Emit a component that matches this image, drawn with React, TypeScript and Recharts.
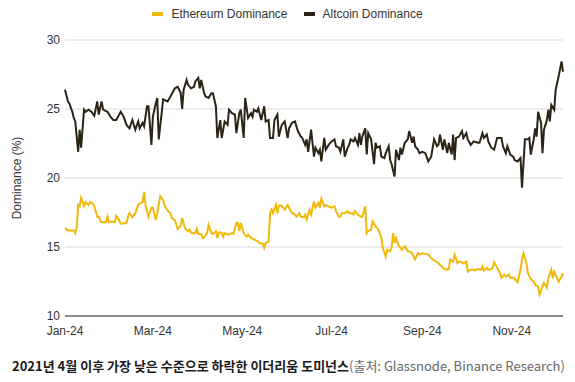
import React from 'react';
import { LineChart, Line, XAxis, YAxis, CartesianGrid } from 'recharts';

// Day offsets from 2024-01-01
const monthTickDays = [0, 60, 121, 182, 244, 305];
const monthTickLabels = ['Jan-24', 'Mar-24', 'May-24', 'Jul-24', 'Sep-24', 'Nov-24'];
const yTicks = [10, 15, 20, 25, 30];

const altDays = [0,2,3,5,6,7,9,10,11,13,14,16,18,20,22,23,25,26,29,31,33,35,38,40,42,44,46,48,50,51,53,54,56,57,59,60,62,63,64,66,67,70,72,74,75,77,79,80,81,83,84,86,88,89,91,92,93,95,96,98,100,101,103,104,106,107,109,111,112,114,116,117,119,120,122,123,125,127,128,129,131,132,134,136,137,139,140,142,143,145,146,148,150,152,153,155,157,159,161,162,164,165,166,168,170,171,173,174,175,177,178,180,182,184,185,187,188,190,191,193,194,195,197,198,200,201,202,203,205,206,207,209,211,212,213,215,216,218,219,221,222,223,225,226,228,229,230,232,234,235,237,238,239,241,242,244,246,248,250,252,254,255,256,258,259,261,262,264,265,266,267,269,271,272,274,275,277,279,282,283,285,286,288,289,291,293,295,298,299,301,302,304,306,307,309,311,312,314,316,317,318,320,321,322,323,325,326,327,329,330,331,332,334,335,337,339,340];
const altValues = [26.4,25.55,25.4,24.8,24.35,24.1,21.9,23.5,22.2,24.95,24.8,24.95,24.8,24.5,25.55,24.6,25.55,24.95,24.8,24.45,24.2,24.2,24.8,24.45,23.85,23.6,24.2,23.5,24.1,23.6,24.0,23.75,25.2,25.2,22.4,24.45,25.4,25.8,22.8,24.7,25.7,25.55,25.9,26.3,26.5,26.6,26.15,25.0,26.4,27.1,26.75,26.5,26.6,27.0,27.25,26.5,27.1,26.15,25.9,25.8,26.15,26.15,25.2,22.9,24.2,22.9,24.1,23.85,24.95,24.7,24.6,23.25,24.7,24.95,22.9,25.8,24.35,24.7,24.45,24.95,24.8,25.05,24.2,25.2,24.1,24.2,22.9,22.9,24.2,24.6,23.0,23.85,24.1,22.9,23.6,24.0,24.1,23.4,23.0,22.9,22.4,22.8,21.9,23.5,21.55,22.2,21.8,22.05,21.2,22.9,22.05,22.4,22.65,22.8,22.3,22.2,21.9,22.8,21.55,22.2,22.4,22.8,22.65,22.9,22.4,23.25,22.4,23.0,23.6,21.7,23.25,22.8,21.0,22.55,22.2,22.3,21.55,21.45,21.8,22.3,21.3,21.0,20.1,22.05,21.3,22.2,21.7,22.55,22.8,23.4,22.55,23.0,22.3,22.05,21.8,21.9,21.8,21.2,21.55,22.8,22.3,22.4,23.15,22.05,22.8,21.8,22.55,21.7,23.15,21.3,22.9,23.0,23.4,22.9,23.25,22.8,22.4,22.65,22.55,22.55,23.25,22.9,23.15,22.65,22.2,22.05,22.9,22.9,22.3,21.8,22.3,21.7,21.55,21.3,21.2,21.45,19.3,22.8,22.8,22.9,21.7,22.8,23.6,23.0,24.8,24.0,21.8,23.5,24.2,24.95,24.1,25.3,24.95,26.4,27.35,28.45,27.7];

const ethDays = [0,2,4,6,7,8,9,10,11,13,14,16,17,19,20,22,23,25,26,28,29,30,32,34,35,37,38,40,42,43,44,46,48,50,51,53,54,55,57,59,60,62,63,65,67,68,70,72,73,75,77,79,80,82,84,85,86,88,89,90,91,93,94,95,97,98,99,100,101,103,104,105,107,108,109,111,112,114,115,117,118,119,120,122,124,125,127,128,130,132,133,135,136,137,139,140,141,142,144,145,146,148,150,152,153,155,156,158,160,161,163,164,165,167,168,170,171,173,174,175,177,178,180,182,184,185,187,188,189,191,193,194,196,197,198,200,202,203,205,206,207,209,210,212,213,214,216,217,219,220,222,223,224,225,226,228,229,230,232,234,235,237,239,241,242,244,246,248,250,251,253,255,256,258,260,262,263,265,266,268,269,271,272,274,275,277,279,280,282,284,285,286,288,289,291,292,293,295,297,298,300,301,303,304,306,307,309,311,312,313,315,316,318,320,321,323,324,326,327,329,330,332,333,334,335,337,339,340];
const ethValues = [16.38,16.2,16.2,16.2,16.0,16.4,18.05,17.95,18.55,17.95,18.25,18.05,18.25,18.15,17.95,17.2,17.2,16.8,16.8,16.8,17.2,16.8,16.85,16.8,17.25,16.95,16.7,16.7,16.75,17.2,17.45,17.15,17.45,18.05,18.15,18.25,19.0,18.05,17.2,17.85,17.85,16.95,17.45,18.7,18.4,18.0,17.65,17.45,17.1,16.95,16.3,16.55,17.1,16.35,16.15,16.25,16.05,16.0,16.0,16.3,15.95,15.95,15.65,15.7,16.0,16.6,16.3,16.0,15.95,16.15,15.65,16.05,16.05,15.75,16.0,15.9,15.9,16.0,15.95,16.75,16.75,16.15,16.75,16.0,15.75,15.9,15.65,15.6,15.5,15.4,15.25,15.25,14.95,15.3,15.4,17.45,17.7,17.45,18.05,17.45,18.0,18.0,17.7,18.05,17.85,17.45,17.45,17.2,17.45,17.2,17.15,17.35,17.0,17.7,17.35,18.3,17.85,18.2,17.85,18.5,17.95,18.05,17.95,17.85,17.95,17.6,17.2,17.2,17.45,17.45,17.6,17.45,17.45,17.35,17.6,17.35,17.2,17.2,17.95,16.0,16.15,16.25,16.85,16.5,16.4,16.25,15.65,14.95,14.3,14.8,14.7,14.95,16.0,15.3,15.65,15.05,14.95,14.8,15.05,14.7,14.7,14.55,14.1,14.55,14.45,14.55,14.5,14.45,14.2,14.1,13.95,13.85,13.7,13.5,13.35,13.4,14.1,13.95,14.45,13.85,13.95,13.9,13.8,13.95,13.2,13.35,13.35,13.3,13.4,13.35,13.6,13.3,13.5,13.35,13.4,13.5,13.9,13.5,13.1,12.75,13.0,12.85,13.0,12.75,12.8,12.7,12.45,13.35,14.1,14.55,13.85,13.1,12.65,12.5,12.25,12.15,11.55,12.15,12.4,12.05,12.75,13.35,12.75,13.2,13.0,12.5,12.85,13.1];

const ETH_COLOR = '#F0B90B';
const ALT_COLOR = '#2B2414';

function buildData() {
  const map = new Map<number, { day: number; eth?: number; alt?: number }>();
  altDays.forEach((d, i) => {
    const e = map.get(d) || { day: d };
    e.alt = altValues[i];
    map.set(d, e);
  });
  ethDays.forEach((d, i) => {
    const e = map.get(d) || { day: d };
    e.eth = ethValues[i];
    map.set(d, e);
  });
  return Array.from(map.values()).sort((a, b) => a.day - b.day);
}

const data = buildData();

const tickStyle = { fontFamily: 'Liberation Sans, Arial, sans-serif', fontSize: 12, fill: '#333' };

export default function App() {
  return (
    <div style={{ position: 'absolute', left: 0, top: 0, width: 575, height: 382, background: '#fff', overflow: 'hidden' }}>
      <div style={{ position: 'absolute', top: 7, left: 0, width: 575, display: 'flex', justifyContent: 'center', fontFamily: 'Liberation Sans, Arial, sans-serif', fontSize: 12, color: '#333' }}>
        <div style={{ display: 'flex', alignItems: 'center', marginRight: 16 }}>
          <span style={{ display: 'inline-block', width: 11, height: 4, background: ETH_COLOR, marginRight: 8 }} />
          <span>Ethereum Dominance</span>
        </div>
        <div style={{ display: 'flex', alignItems: 'center' }}>
          <span style={{ display: 'inline-block', width: 11, height: 4, background: ALT_COLOR, marginRight: 8 }} />
          <span>Altcoin Dominance</span>
        </div>
      </div>
      <div style={{ position: 'absolute', left: 0, top: 0 }}>
        <LineChart width={575} height={340} data={data} margin={{ top: 40, right: 12, bottom: 0, left: 0 }}>
          <CartesianGrid vertical={false} stroke="#d9d9d9" strokeWidth={1} />
          <XAxis
            dataKey="day"
            type="number"
            domain={[0, 340]}
            ticks={monthTickDays}
            tickFormatter={(v: number) => monthTickLabels[monthTickDays.indexOf(v)] ?? ''}
            tickLine={false}
            tickSize={0}
            tickMargin={10}
            height={24}
            axisLine={{ stroke: '#8c8c8c', strokeWidth: 2 }}
            tick={tickStyle}
            interval={0}
          />
          <YAxis
            type="number"
            domain={[10, 30]}
            ticks={yTicks}
            width={65}
            axisLine={false}
            tickLine={false}
            tickSize={0}
            tickMargin={5}
            tick={tickStyle}
            label={{
              content: () => (
                <text x={17} y={178} transform="rotate(-90,17,178)" textAnchor="middle" dominantBaseline="central" style={tickStyle}>
                  Dominance (%)
                </text>
              ),
            }}
          />
          <Line type="linear" dataKey="alt" stroke={ALT_COLOR} strokeWidth={2} dot={false} connectNulls isAnimationActive={false} />
          <Line type="linear" dataKey="eth" stroke={ETH_COLOR} strokeWidth={2} dot={false} connectNulls isAnimationActive={false} />
        </LineChart>
      </div>
      <div style={{ position: 'absolute', left: 12, top: 357, fontFamily: '"Noto Sans CJK KR", sans-serif', fontSize: 13, whiteSpace: 'nowrap', lineHeight: '18px' }}>
        <span style={{ fontWeight: 700, color: '#1a1a1a' }}>2021년 4월 이후 가장 낮은 수준으로 하락한 이더리움 도미넌스</span>
        <span style={{ color: '#666' }}>(출처: Glassnode, Binance Research)</span>
      </div>
    </div>
  );
}
